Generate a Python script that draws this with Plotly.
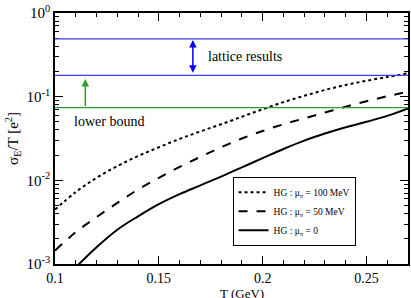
import plotly.graph_objects as go
import numpy as np

# Data
T = [0.10, 0.11, 0.12, 0.13, 0.14, 0.15, 0.16, 0.17, 0.18,
     0.19, 0.20, 0.21, 0.22, 0.23, 0.24, 0.25, 0.26, 0.27]
log_mu100 = [-2.35, -2.14, -1.97, -1.83, -1.71, -1.605, -1.505, -1.415, -1.33,
             -1.24, -1.15, -1.065, -0.99, -0.92, -0.86, -0.81, -0.765, -0.72]
log_mu50 = [-2.84, -2.62, -2.44, -2.27, -2.11, -1.97, -1.84, -1.72, -1.605,
            -1.50, -1.41, -1.33, -1.26, -1.19, -1.12, -1.055, -0.995, -0.94]
T_mu0 = [0.11, 0.12, 0.13, 0.14, 0.15, 0.16, 0.17, 0.18,
         0.19, 0.20, 0.21, 0.22, 0.23, 0.24, 0.25, 0.26, 0.27]
log_mu0 = [-3.04, -2.80, -2.59, -2.43, -2.285, -2.165, -2.06, -1.955,
           -1.845, -1.735, -1.625, -1.525, -1.44, -1.365, -1.30, -1.23, -1.14]

mu100 = [10 ** v for v in log_mu100]
mu50 = [10 ** v for v in log_mu50]
mu0 = [10 ** v for v in log_mu0]

lattice_upper = 0.49
lattice_lower = 0.18
lower_bound = 0.074
arrow_lattice_T = 0.1664
arrow_bound_T = 0.1146
arrow_bound_tip = 0.163

names = ["HG : μ<sub>π</sub> = 100 MeV", "HG : μ<sub>π</sub> = 50 MeV", "HG : μ<sub>π</sub> = 0"]

y_tickvals = [1e-3, 1e-2, 1e-1, 1e0]
y_ticktext = ["10<sup>-3</sup>", "10<sup>-2</sup>", "10<sup>-1</sup>", "10<sup>0</sup>"]
x_tickvals = [0.1, 0.15, 0.2, 0.25]
x_ticktext = ["0.1", "0.15", "0.2", "0.25"]

FONT = "Liberation Serif, Times New Roman, serif"
BLUE = "rgb(60,60,240)"
GREEN = "rgb(40,160,40)"

fig = go.Figure()
fig.add_trace(go.Scatter(x=T, y=mu100, mode="lines", name=names[0], line_shape="spline",
                         line=dict(color="black", width=2, dash="dot")))
fig.add_trace(go.Scatter(x=T, y=mu50, mode="lines", name=names[1], line_shape="spline",
                         line=dict(color="black", width=2, dash="dash")))
fig.add_trace(go.Scatter(x=T_mu0, y=mu0, mode="lines", name=names[2], line_shape="spline",
                         line=dict(color="black", width=2)))

for val, col in [(lattice_upper, BLUE), (lattice_lower, BLUE), (lower_bound, GREEN)]:
    fig.add_shape(type="line", xref="paper", x0=0, x1=1, yref="y", y0=val, y1=val,
                  line=dict(color=col, width=1.2))

fig.add_annotation(x=arrow_lattice_T, y=np.log10(lattice_upper), xref="x", yref="y",
                   ax=arrow_lattice_T, ay=np.log10(lattice_lower), axref="x", ayref="y",
                   showarrow=True, arrowhead=2, arrowside="end+start", arrowsize=1,
                   arrowwidth=1.5, arrowcolor="blue", text="", standoff=1, startstandoff=1)
fig.add_annotation(x=arrow_bound_T, y=np.log10(arrow_bound_tip), xref="x", yref="y",
                   ax=arrow_bound_T, ay=np.log10(lower_bound), axref="x", ayref="y",
                   showarrow=True, arrowhead=2, arrowsize=1,
                   arrowwidth=1.5, arrowcolor=GREEN, text="")
fig.add_annotation(x=0.1725, y=np.log10(0.30), xref="x", yref="y", text="lattice results",
                   showarrow=False, xanchor="left", font=dict(family=FONT, size=14, color="black"))
fig.add_annotation(x=0.108, y=np.log10(0.050), xref="x", yref="y", text="lower bound",
                   showarrow=False, xanchor="left", font=dict(family=FONT, size=14, color="black"))

fig.add_annotation(x=0.529, y=-0.116, xref="paper", yref="paper", text="T (GeV)",
                   showarrow=False, xanchor="center", yanchor="middle", borderpad=0,
                   font=dict(family=FONT, size=13, color="black"))

minor_y = []
for e in range(-3, 0):
    for k in range(2, 10):
        minor_y.append(k * 10 ** e)

fig.update_xaxes(range=[0.1, 0.27], tickvals=x_tickvals, ticktext=x_ticktext,
                 automargin=False,
                 ticks="inside", ticklen=8, tickwidth=1, tickcolor="black",
                 showline=True, linecolor="black", linewidth=1.5, mirror="ticks",
                 showgrid=False, zeroline=False,
                 minor=dict(ticks="inside", ticklen=4, dtick=0.01, tick0=0.1,
                            tickcolor="black", showgrid=False),
                 tickfont=dict(family=FONT, size=14, color="black"))
fig.update_yaxes(type="log", range=[-3, 0], tickvals=y_tickvals, ticktext=y_ticktext,
                 automargin=False,
                 ticks="inside", ticklen=8, tickwidth=1, tickcolor="black",
                 showline=True, linecolor="black", linewidth=1.5, mirror="ticks",
                 showgrid=False, zeroline=False,
                 minor=dict(ticks="inside", ticklen=4, tickmode="array", tickvals=minor_y,
                            tickcolor="black", showgrid=False),
                 title=dict(text="σ<sub>E</sub>/T [e<sup>2</sup>]", standoff=4,
                            font=dict(family=FONT, size=15, color="black")),
                 tickfont=dict(family=FONT, size=15, color="black"))

fig.update_layout(
    width=411, height=298,
    margin=dict(l=55, r=3, t=13, b=34),
    plot_bgcolor="white", paper_bgcolor="white",
    font=dict(family=FONT, color="black"),
    legend=dict(x=0.503, y=0.348, xanchor="left", yanchor="top",
                bgcolor="white", bordercolor="black", borderwidth=1,
                font=dict(family=FONT, size=9.5, color="black"),
                tracegroupgap=0, itemwidth=30),
    showlegend=True,
)

fig.write_html("out.html", config={"displayModeBar": False},
               post_script="document.body.style.margin='0';document.body.style.padding='0';")
